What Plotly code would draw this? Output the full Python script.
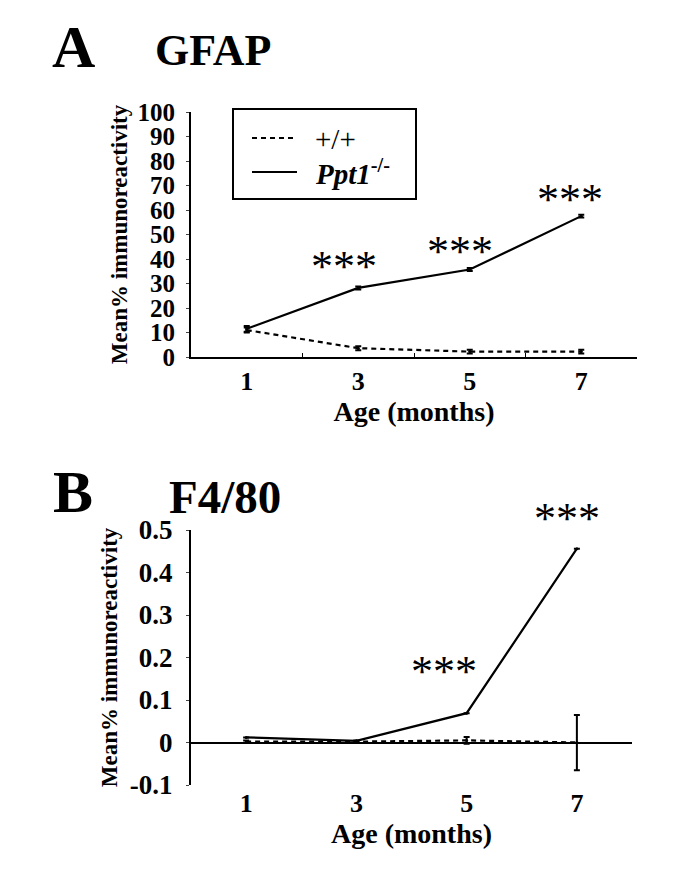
import plotly.graph_objects as go

# ---- data ----
months = [1, 3, 5, 7]
tick_months = [1, 3, 5, 7]

gfap_wt = [11.0, 3.6, 2.2, 2.2]
gfap_wt_err = [1.0, 0.8, 0.8, 0.8]
gfap_ko = [11.5, 28.2, 35.7, 57.5]
gfap_ko_err = [1.2, 0.6, 0.6, 0.6]

f480_wt = [0.002, 0.002, 0.005, 0.0]
f480_wt_err = [0.003, 0.002, 0.008, 0.065]
f480_ko = [0.012, 0.004, 0.069, 0.456]
f480_ko_err = [0.0, 0.0, 0.0, 0.0]

gfap_yticks = [0, 10, 20, 30, 40, 50, 60, 70, 80, 90, 100]
f480_yticks = [-0.1, 0, 0.1, 0.2, 0.3, 0.4, 0.5]
f480_yticklabels = ["-0.1", "0", "0.1", "0.2", "0.3", "0.4", "0.5"]

stars_gfap = [(3, 36.8), (5, 43.0), (7, 64.4)]
stars_gfap_dx = [-0.25, -0.18, -0.2]
stars_f480 = [(5, 0.168), (7, 0.5)]
stars_f480_dx = [-0.41, -0.18]
stars_f480_shift = [0, 12]

FONT = "Liberation Serif"
PAGE_W, PAGE_H = 687, 877
OFF = 8  # page body margin
W, H = PAGE_W - 2 * OFF, PAGE_H - 2 * OFF
DASH = "5px,4px"

def px(x):
    return (x - OFF) / W

def py(y):
    return 1 - (y - OFF) / H

fig = go.Figure()

def add_series(x, y, err, dash, xa, ya):
    fig.add_trace(go.Scatter(
        x=x, y=y, mode="lines+markers", xaxis=xa, yaxis=ya,
        line=dict(color="black", width=2.2, dash=dash),
        marker=dict(size=3, color="black"),
        error_y=dict(type="data", array=err, color="black", thickness=2, width=3),
        showlegend=False, cliponaxis=False))

add_series(months, gfap_wt, gfap_wt_err, DASH, "x", "y")
add_series(months, gfap_ko, gfap_ko_err, "solid", "x", "y")
add_series(months, f480_wt, f480_wt_err, DASH, "x2", "y2")
add_series(months, f480_ko, f480_ko_err, "solid", "x2", "y2")

def bold(size):
    return dict(family=FONT, size=size, color="black", weight="bold")

x_common = dict(range=[0, 8], tickvals=tick_months, ticktext=[str(m) for m in tick_months],
                ticks="", showgrid=False, zeroline=False, tickfont=bold(26), automargin=False,
                title=dict(text="Age (months)", font=bold(28), standoff=0))

fig.update_layout(
    width=W, height=H, plot_bgcolor="white", paper_bgcolor="white",
    margin=dict(l=0, r=0, t=0, b=0, autoexpand=False),
    xaxis=dict(domain=[px(191), px(637)], anchor="y", showline=True, linecolor="black", linewidth=2,
               minor=dict(tickvals=[2, 4, 6], ticks="inside", ticklen=4, tickcolor="black", tickwidth=1),
               **x_common),
    yaxis=dict(domain=[py(357), py(112)], anchor="x", range=[0, 100], tickvals=gfap_yticks,
               showline=True, linecolor="black", linewidth=2, ticks="outside", ticklen=3, tickwidth=1,
               ticklabelstandoff=6,
               showgrid=False, zeroline=False, tickfont=bold(25), automargin=False,
               title=dict(text="Mean% immunoreactivity", font=bold(23), standoff=3)),
    xaxis2=dict(domain=[px(191), px(632)], anchor="y2", showline=False, **x_common),
    yaxis2=dict(domain=[py(785), py(530)], anchor="x2", range=[-0.1, 0.5], tickvals=f480_yticks,
                ticktext=f480_yticklabels, automargin=False,
                showline=True, linecolor="black", linewidth=2, ticks="outside", ticklen=3, tickwidth=1,
                ticklabelstandoff=8,
                showgrid=False, zeroline=True, zerolinecolor="black", zerolinewidth=2,
                tickfont=bold(27),
                title=dict(text="Mean% immunoreactivity", font=bold(23), standoff=6)),
)

ann = []
def txt(text, x, y, size):
    ann.append(dict(text=text, x=px(x), y=py(y), xref="paper", yref="paper", showarrow=False,
                    xanchor="center", yanchor="middle", font=bold(size)))

txt("A", 73, 47, 60)
txt("GFAP", 213, 50, 44)
txt("B", 73, 492, 60)
txt("F4/80", 225, 497, 47)

STAR = dict(family=FONT, size=44, color="black")
for (sx, sy), dx in zip(stars_gfap, stars_gfap_dx):
    ann.append(dict(text="***", x=sx + dx, y=sy, xref="x", yref="y", showarrow=False, font=STAR))
for (sx, sy), dx, sh in zip(stars_f480, stars_f480_dx, stars_f480_shift):
    ann.append(dict(text="***", x=sx + dx, y=sy, xref="x2", yref="y2", showarrow=False, yshift=sh, font=STAR))

# legend (manual)
shapes = [
    dict(type="rect", xref="paper", yref="paper", x0=px(233), x1=px(416), y0=py(199), y1=py(109),
         line=dict(color="black", width=2)),
    dict(type="line", xref="paper", yref="paper", x0=px(252), x1=px(297), y0=py(138), y1=py(138),
         line=dict(color="black", width=2, dash=DASH)),
    dict(type="line", xref="paper", yref="paper", x0=px(252), x1=px(297), y0=py(172), y1=py(172),
         line=dict(color="black", width=2)),
]
ann.append(dict(text="+/+", x=px(313), y=py(139), xref="paper", yref="paper", showarrow=False,
                xanchor="left", yanchor="middle", font=dict(family=FONT, size=29, color="black")))
ann.append(dict(text="<i>Ppt1</i><sup>-/-</sup>", x=px(313), y=py(172), xref="paper", yref="paper",
                showarrow=False, xanchor="left", yanchor="middle", font=bold(29)))

fig.update_layout(annotations=ann, shapes=shapes)
fig.write_html("out.html")
